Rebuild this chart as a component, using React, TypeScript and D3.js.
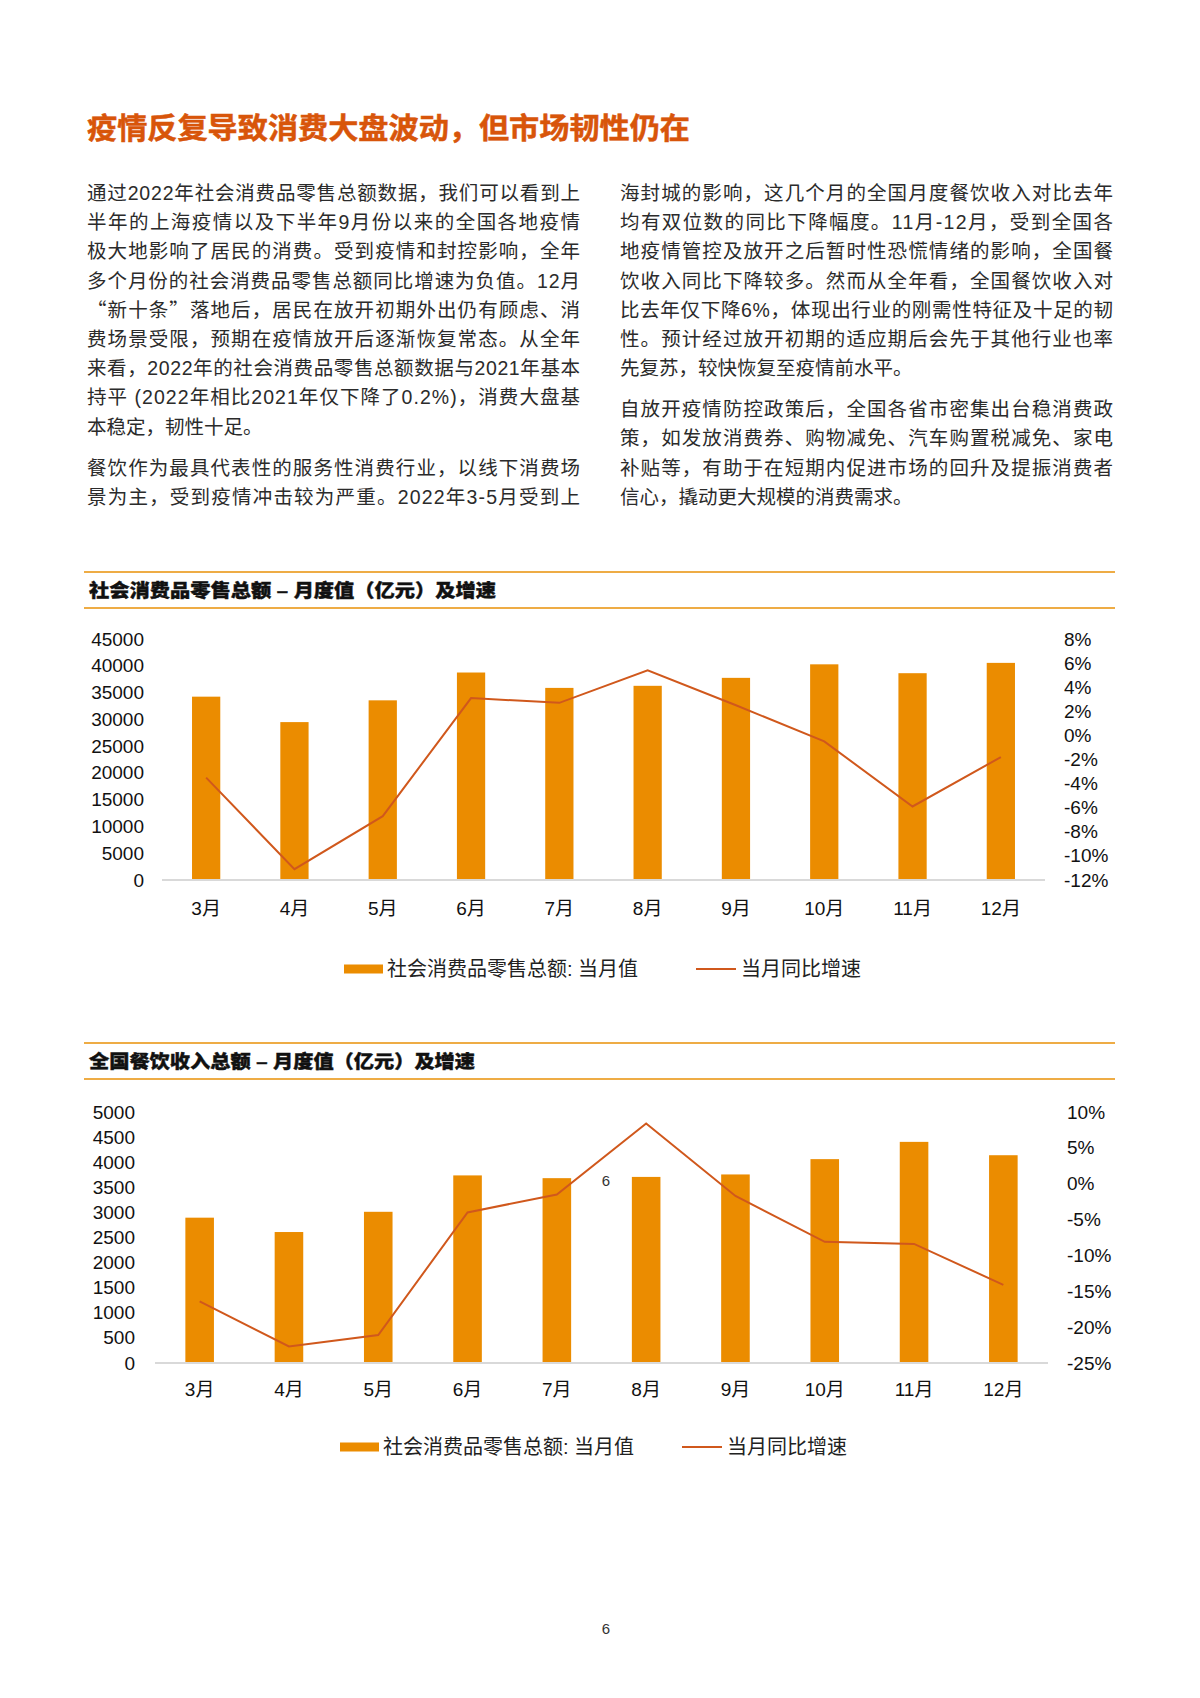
import * as d3 from "d3";

// page: text block + two bar/line combo charts (retail sales, catering revenue)

const months = ["3月", "4月", "5月", "6月", "7月", "8月", "9月", "10月", "11月", "12月"];

// 社会消费品零售总额 (亿元) and yoy growth (%)
const retailSales = [34233, 29483, 33547, 38742, 35870, 36258, 37745, 40271, 38615, 40542];
const retailGrowth = [-3.5, -11.1, -6.7, 3.1, 2.7, 5.4, 2.5, -0.5, -5.9, -1.8];
const retailLeftTicks = [0, 5000, 10000, 15000, 20000, 25000, 30000, 35000, 40000, 45000];
const retailRightTicks = [-12, -10, -8, -6, -4, -2, 0, 2, 4, 6, 8];

// 全国餐饮收入 (亿元) and yoy growth (%)
const cateringRevenue = [2895, 2609, 3012, 3737, 3682, 3707, 3756, 4061, 4405, 4139];
const cateringGrowth = [-16.4, -22.7, -21.1, -4.0, -1.5, 8.4, -1.7, -8.1, -8.4, -14.1];
const cateringLeftTicks = [0, 500, 1000, 1500, 2000, 2500, 3000, 3500, 4000, 4500, 5000];
const cateringRightTicks = [-25, -20, -15, -10, -5, 0, 5, 10];

const legendLabels = ["社会消费品零售总额: 当月值", "当月同比增速"];

const leftCol = [
  "通过2022年社会消费品零售总额数据，我们可以看到上",
  "半年的上海疫情以及下半年9月份以来的全国各地疫情",
  "极大地影响了居民的消费。受到疫情和封控影响，全年",
  "多个月份的社会消费品零售总额同比增速为负值。12月",
  "“新十条”落地后，居民在放开初期外出仍有顾虑、消",
  "费场景受限，预期在疫情放开后逐渐恢复常态。从全年",
  "来看，2022年的社会消费品零售总额数据与2021年基本",
  "持平 (2022年相比2021年仅下降了0.2%)，消费大盘基",
  "本稳定，韧性十足。",
  "餐饮作为最具代表性的服务性消费行业，以线下消费场",
  "景为主，受到疫情冲击较为严重。2022年3-5月受到上",
];
const rightCol = [
  "海封城的影响，这几个月的全国月度餐饮收入对比去年",
  "均有双位数的同比下降幅度。11月-12月，受到全国各",
  "地疫情管控及放开之后暂时性恐慌情绪的影响，全国餐",
  "饮收入同比下降较多。然而从全年看，全国餐饮收入对",
  "比去年仅下降6%，体现出行业的刚需性特征及十足的韧",
  "性。预计经过放开初期的适应期后会先于其他行业也率",
  "先复苏，较快恢复至疫情前水平。",
  "自放开疫情防控政策后，全国各省市密集出台稳消费政",
  "策，如发放消费券、购物减免、汽车购置税减免、家电",
  "补贴等，有助于在短期内促进市场的回升及提振消费者",
  "信心，撬动更大规模的消费需求。",
];
// lines that end a paragraph are not justified
const leftParaEnds = [8];
const rightParaEnds = [6, 10];

const FONT = "'Liberation Sans', Arial, 'Noto Sans CJK SC', sans-serif";
const CJK = "'Noto Sans CJK SC', sans-serif";
const BAR = "#eb8c00";
const LINE = "#d0581c";
const RULE = "#eeac45";
const TEXT = "#2b2b2b";

// curly quotes should use the full-width CJK glyphs
const withQuotes = (t: string) =>
  t.split(/([“”])/).map((s, i) =>
    s === "“" || s === "”" ? (
      <tspan key={i} fontFamily={CJK}>
        {s}
      </tspan>
    ) : (
      s
    )
  );

const TextColumn = ({ lines, x, y0, ends }: { lines: string[]; x: number; y0: number; ends: number[] }) => {
  let y = y0;
  return (
    <g fontFamily={FONT} fontSize={19.5} fill={TEXT}>
      {lines.map((t, i) => {
        const ty = y;
        y += ends.includes(i) ? 41 : 29.2;
        const last = ends.includes(i);
        return (
          <text key={i} x={x} y={ty} textLength={last ? undefined : 493} lengthAdjust="spacing">
            {withQuotes(t)}
          </text>
        );
      })}
    </g>
  );
};

type ChartProps = {
  title: string;
  titleWidth: number;
  top: number; // y of the upper rule
  values: number[];
  growth: number[];
  leftTicks: number[];
  rightTicks: number[];
  fmtRight: (v: number) => string;
  yTop: number;
  yBottom: number;
  x0: number;
  x1: number;
  leftLabelX: number;
  rightLabelX: number;
  xLabelY: number;
  legendY: number;
  legendX: number;
  legendLineX: number;
};

const ComboChart = (p: ChartProps) => {
  const x = d3.scaleBand<string>().domain(months).range([p.x0, p.x1]).paddingInner(0.68).paddingOuter(0.34);
  const yL = d3.scaleLinear([0, d3.max(p.leftTicks)!], [p.yBottom, p.yTop]);
  const yR = d3.scaleLinear(d3.extent(p.rightTicks) as [number, number], [p.yBottom, p.yTop]);
  const cx = (m: string) => x(m)! + x.bandwidth() / 2;
  const line = d3
    .line<number>()
    .x((_, i) => cx(months[i]))
    .y((d) => yR(d));

  return (
    <g fontFamily={FONT}>
      <line x1={84} x2={1115} y1={p.top} y2={p.top} stroke={RULE} strokeWidth={2} />
      <line x1={84} x2={1115} y1={p.top + 36} y2={p.top + 36} stroke={RULE} strokeWidth={2} />
      <text
        x={89}
        y={p.top + 25}
        fontSize={18.5}
        fontWeight={900}
        fill="#111"
        stroke="#111"
        strokeWidth={0.4}
        textLength={p.titleWidth}
        lengthAdjust="spacingAndGlyphs"
      >
        {p.title}
      </text>

      {/* bars */}
      {p.values.map((v, i) => (
        <rect key={i} x={x(months[i])} y={yL(v)} width={x.bandwidth()} height={yL(0) - yL(v)} fill={BAR} />
      ))}
      <line x1={p.x0} x2={p.x1} y1={yL(0)} y2={yL(0)} stroke="#d9d9d9" strokeWidth={2} />

      <path d={line(p.growth)!} fill="none" stroke={LINE} strokeWidth={2} />

      {/* axes */}
      <g fontSize={19} fill="#111" dominantBaseline="central">
        {p.leftTicks.map((t) => (
          <text key={t} x={p.leftLabelX} y={yL(t)} textAnchor="end">
            {t}
          </text>
        ))}
        {p.rightTicks.map((t) => (
          <text key={t} x={p.rightLabelX} y={yR(t)}>
            {p.fmtRight(t)}
          </text>
        ))}
        {months.map((m) => (
          <text key={m} x={cx(m)} y={p.xLabelY} textAnchor="middle">
            {m}
          </text>
        ))}
      </g>

      {/* legend */}
      <g fontSize={20} fill="#222" dominantBaseline="central">
        <rect x={p.legendX} y={p.legendY - 4.5} width={39} height={9} fill={BAR} />
        <text x={p.legendX + 43} y={p.legendY}>{legendLabels[0]}</text>
        <line x1={p.legendLineX} x2={p.legendLineX + 40} y1={p.legendY} y2={p.legendY} stroke={LINE} strokeWidth={2} />
        <text x={p.legendLineX + 45} y={p.legendY}>{legendLabels[1]}</text>
      </g>
    </g>
  );
};

export default function App() {
  return (
    <svg width={1200} height={1698} style={{ position: "absolute", left: 0, top: 0, background: "#fff" }}>
      <text
        x={87}
        y={139}
        fontFamily={FONT}
        fontSize={29}
        fontWeight={700}
        fill="#d8550a"
        stroke="#d8550a"
        strokeWidth={0.5}
        textLength={603}
        lengthAdjust="spacingAndGlyphs"
      >
        疫情反复导致消费大盘波动，但市场韧性仍在
      </text>

      <TextColumn lines={leftCol} x={87} y0={200} ends={leftParaEnds} />
      <TextColumn lines={rightCol} x={620} y0={200} ends={rightParaEnds} />

      <ComboChart
        title="社会消费品零售总额 – 月度值（亿元）及增速"
        titleWidth={407}
        top={572}
        values={retailSales}
        growth={retailGrowth}
        leftTicks={retailLeftTicks}
        rightTicks={retailRightTicks}
        fmtRight={(v) => `${v}%`}
        yTop={639}
        yBottom={880}
        x0={162}
        x1={1045}
        leftLabelX={144}
        rightLabelX={1064}
        xLabelY={908}
        legendY={969}
        legendX={344}
        legendLineX={696}
      />

      <ComboChart
        title="全国餐饮收入总额 – 月度值（亿元）及增速"
        titleWidth={386}
        top={1043}
        values={cateringRevenue}
        growth={cateringGrowth}
        leftTicks={cateringLeftTicks}
        rightTicks={cateringRightTicks}
        fmtRight={(v) => `${v}%`}
        yTop={1112}
        yBottom={1363}
        x0={155}
        x1={1048}
        leftLabelX={135}
        rightLabelX={1067}
        xLabelY={1389}
        legendY={1447}
        legendX={340}
        legendLineX={682}
      />

      {/* stray label in the source chart */}
      <text x={606} y={1180} fontFamily={FONT} fontSize={15} fill="#333" textAnchor="middle" dominantBaseline="central">
        6
      </text>
      <text x={606} y={1628} fontFamily={FONT} fontSize={15} fill="#333" textAnchor="middle" dominantBaseline="central">
        6
      </text>
    </svg>
  );
}
